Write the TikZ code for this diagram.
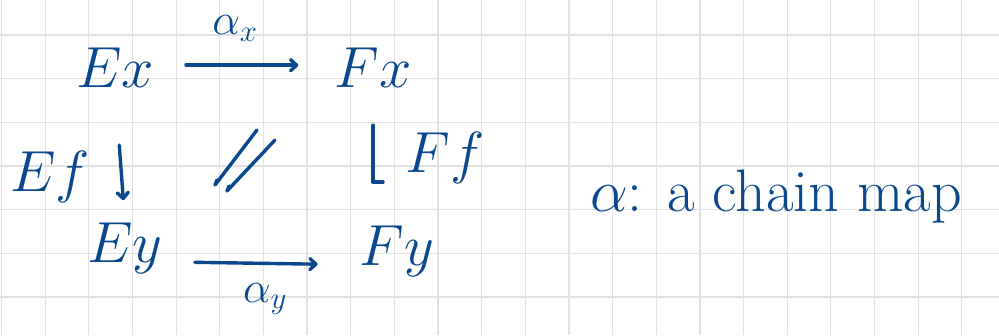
\RequirePackage{fix-cm}
\documentclass[tikz,border=0pt]{standalone}
\usetikzlibrary{arrows.meta}
\definecolor{ink}{RGB}{10,72,142}
\definecolor{gridc}{RGB}{226,226,226}
\begin{document}
\begin{tikzpicture}[x=1pt,y=1pt,
  lbl/.style={text=ink, inner sep=0pt, anchor=base, font=\fontsize{58}{66}\selectfont},
  sml/.style={text=ink, inner sep=0pt, anchor=base, font=\fontsize{44}{52}\selectfont},
  notetext/.style={text=ink, inner sep=0pt, anchor=base west, font=\fontsize{60}{68}\selectfont},
  inkline/.style={draw=ink, line width=3.4pt, line cap=round, line join=round},
  arr/.style={inkline, -{Straight Barb[length=6pt,width=11pt,round]}},
]
\fill[white] (0,0) rectangle (999,335);
\useasboundingbox (0,0) rectangle (999,335);
\foreach \i in {0,...,22} \draw[gridc, line width=1.2pt] ({1.5+43.65*\i},0) -- ({1.5+43.65*\i},335);
\foreach \j in {0,...,6} \draw[gridc, line width=1.2pt] (0,{300-43.65*\j}) -- (999,{300-43.65*\j});

\node[lbl] (Ex) at (115,247) {$Ex$};
\node[lbl] (Fx) at (373,247) {$Fx$};
\node[lbl] (Ey) at (125,73) {$Ey$};
\node[lbl] (Fy) at (397,70) {$Fy$};
\node[lbl] (Ef) at (50,143) {$Ef$};
\node[lbl] (Ff) at (445,162) {$Ff$};
\node[sml] (ax) at (235,300) {$\alpha_x$};
\node[sml] (ay) at (265,33) {$\alpha_y$};
\node[notetext] (note) at (590,123) {$\alpha$: a chain map};

\draw[arr, shorten <=32pt, shorten >=36pt] ([yshift=3pt]Ex.east) -- ([yshift=3pt]Fx.west);
\draw[arr, shorten <=32pt, shorten >=42pt] ([yshift=-14pt]Ey.east) -- ([yshift=-14pt]Fy.west);
\draw[arr, shorten <=57pt, shorten >=22pt] (Ex.south) -- (Ey.north);
\draw[inkline] ([yshift=-37pt]Fx.south) -- ([yshift=-94pt]Fx.south) -- ++(10pt,0);

\coordinate (cell) at (245,172);
\draw[inkline, shift={(cell)}] (12,33) -- (-30,-22) -- (-28,-17);
\draw[inkline, shift={(cell)}] (30,23) -- (-18,-28) -- (-16,-23);
\end{tikzpicture}
\end{document}
